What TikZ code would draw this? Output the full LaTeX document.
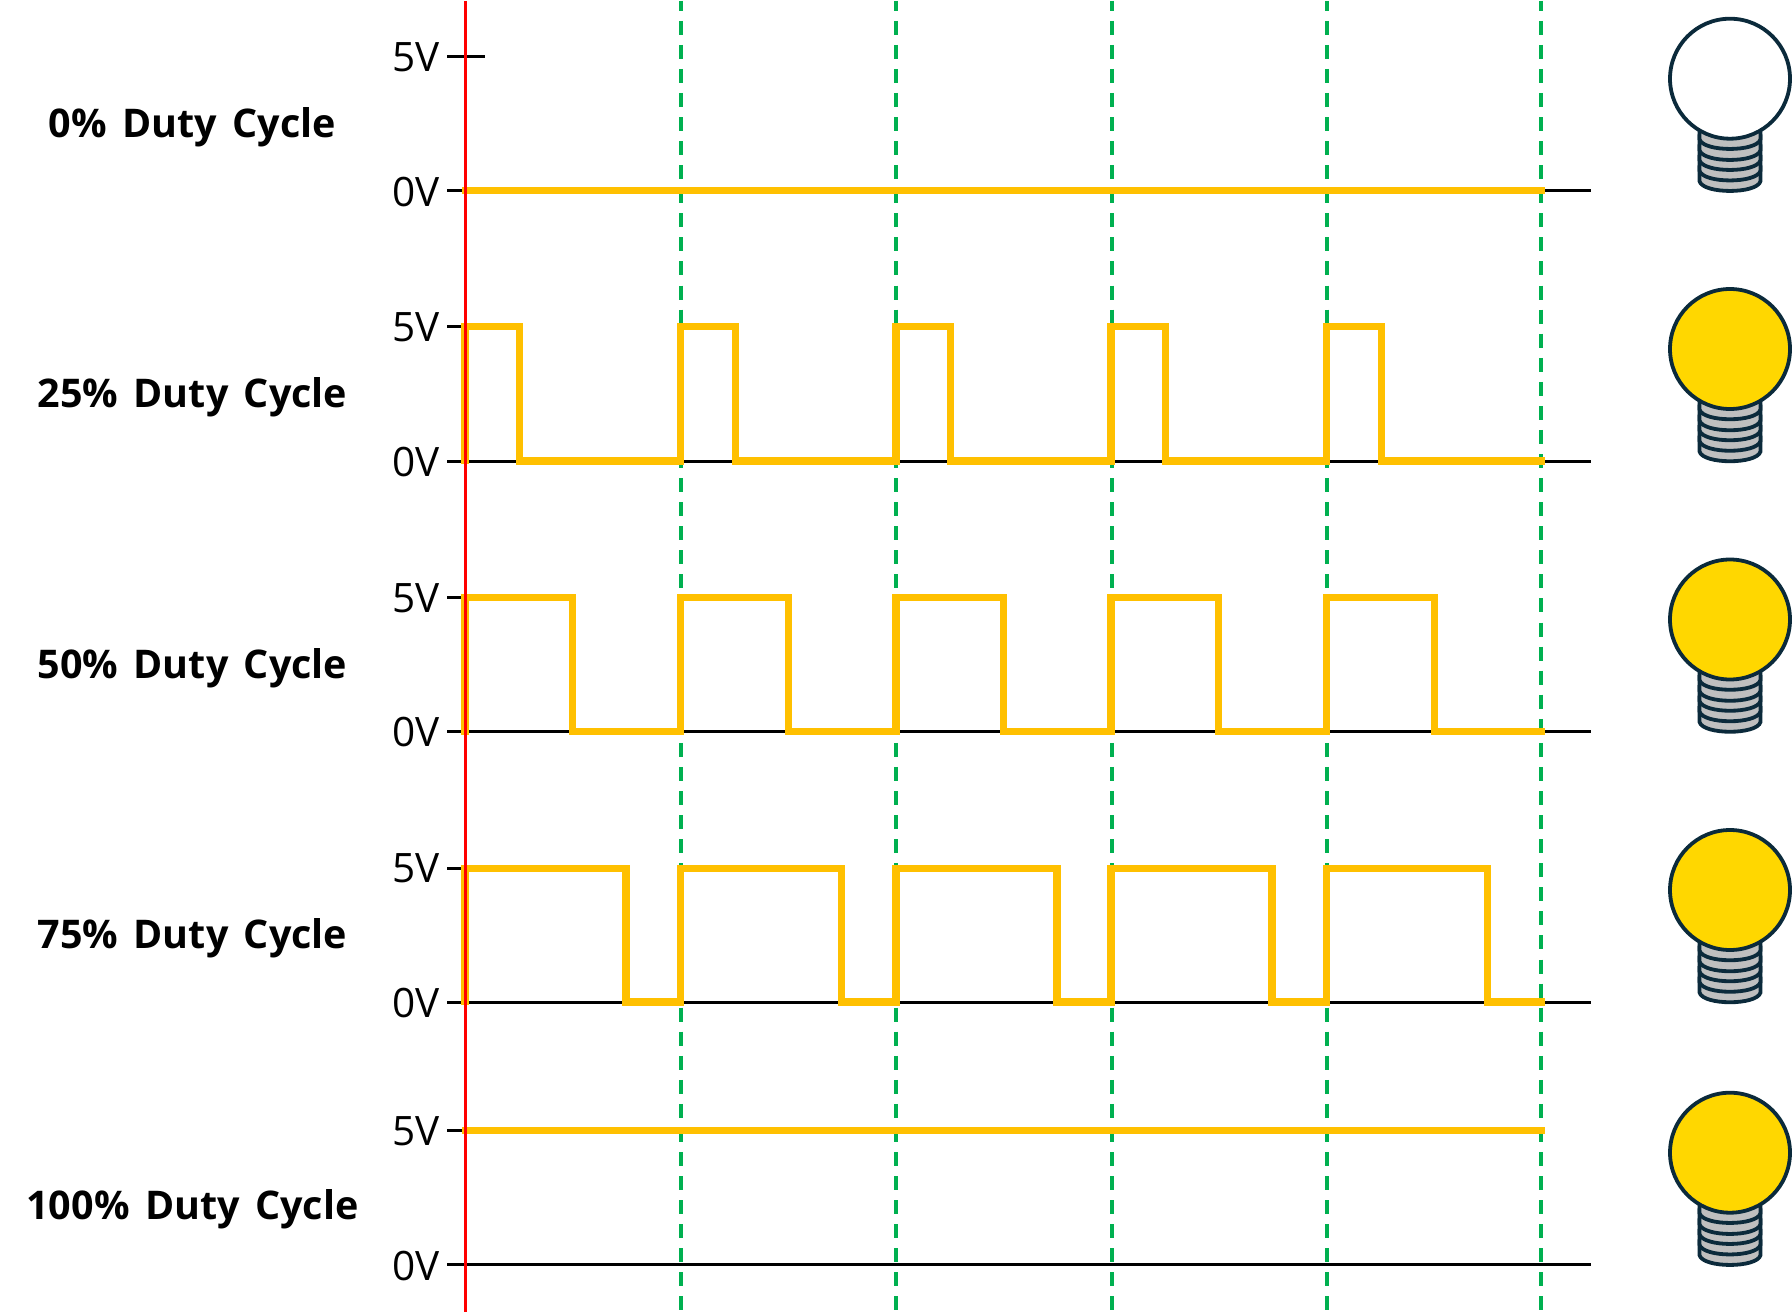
\documentclass[tikz,border=0pt]{standalone}
\usepackage{fontspec}
\setmainfont{Open Sans}
\newfontfamily\boldlabelfont[WordSpace=1.5]{Open Sans Bold}
\definecolor{wave}{HTML}{FFC000}
\definecolor{grid}{HTML}{00B050}
\definecolor{dark}{HTML}{0B2A3B}
\definecolor{lamp}{HTML}{FFD700}
\definecolor{metal}{HTML}{BFBFBF}
\tikzset{
  axisline/.style={draw=black,line width=3pt},
  gridline/.style={draw=grid,line width=3.8pt,dash pattern=on 14pt off 10.07pt,dash phase=4.3pt},
  waveline/.style={draw=wave,line width=7.2pt,miter limit=10},
  redline/.style={draw=red,line width=3.4pt},
  voltlabel/.style={anchor=base east,inner sep=0pt,font=\fontsize{40.5}{40.5}\selectfont},
  dutylabel/.style={anchor=base,inner sep=0pt,font=\boldlabelfont\fontsize{39.5}{39.5}\selectfont},
  bulbline/.style={draw=dark,line width=3.8pt}
}
% #1 x-centre, #2 y of the 0V line, #3 globe fill
\newcommand{\lampicon}[3]{%
  \foreach \dy in {-9.5,-20,-30.5,-40.5,-51.5}{
    \path[bulbline,fill=metal] (#1-30.5,#2+\dy) .. controls (#1-27,#2+\dy+13) and (#1+27,#2+\dy+13) .. (#1+30.5,#2+\dy) -- (#1+30.5,#2+\dy-14) -- (#1-30.5,#2+\dy-14) -- cycle;
  }
  \path[bulbline,fill=#3] (#1,#2-112) circle[radius=60];
}
\begin{document}
\begin{tikzpicture}[x=1pt,y=-1pt]
\useasboundingbox (0,0) rectangle (1792,1314);
% grid
\foreach \gx in {681.2,896.3,1111.6,1326.9,1541.3}{
  \draw[gridline] (\gx,1) -- (\gx,1313);
}
% axes
\foreach \lo/\hi in {190.7/56.7,461/326.7,731.5/597.7,1002/868.6,1264.7/1130.7}{
  \draw[axisline] (447,\lo) -- (1591,\lo);
  \draw[axisline] (447,\hi) -- (485,\hi);
  \node[voltlabel] at (440,\lo+15.3) {0V};
  \node[voltlabel] at (440,\hi+14.3) {5V};
}
% waves
\draw[waveline] (462,190.7) -- (1545,190.7);
\foreach \lo/\hi/\w in {461/326.7/54.5,731.5/597.7/107.5,1002/868.6/161}{
  \draw[waveline] (465,\lo+3) -- (465,\hi)
    -- ++(\w,0) -- (465+\w,\lo) -- (680.7,\lo)
    -- (680.7,\hi) -- ++(\w,0) -- (680.7+\w,\lo) -- (896,\lo)
    -- (896,\hi) -- ++(\w,0) -- (896+\w,\lo) -- (1111,\lo)
    -- (1111,\hi) -- ++(\w,0) -- (1111+\w,\lo) -- (1326.6,\lo)
    -- (1326.6,\hi) -- ++(\w,0) -- (1326.6+\w,\lo) -- (1545,\lo);
}
\draw[waveline] (462,1130.7) -- (1545,1130.7);
% red marker
\draw[redline] (465.7,1) -- (465.7,1312);
% duty labels
\node[dutylabel] (d0) at (192.5,137) {0\% Duty Cycle};
\node[dutylabel] (d25) at (192.5,407) {25\% Duty Cycle};
\node[dutylabel] (d50) at (192.5,678) {50\% Duty Cycle};
\node[dutylabel] (d75) at (192.5,948.5) {75\% Duty Cycle};
\node[dutylabel] (d100) at (192.5,1219.5) {100\% Duty Cycle};
% bulbs
\lampicon{1730}{190.7}{white}
\lampicon{1730}{461}{lamp}
\lampicon{1730}{731.5}{lamp}
\lampicon{1730}{1002}{lamp}
\lampicon{1730}{1264.7}{lamp}
\end{tikzpicture}
\end{document}
